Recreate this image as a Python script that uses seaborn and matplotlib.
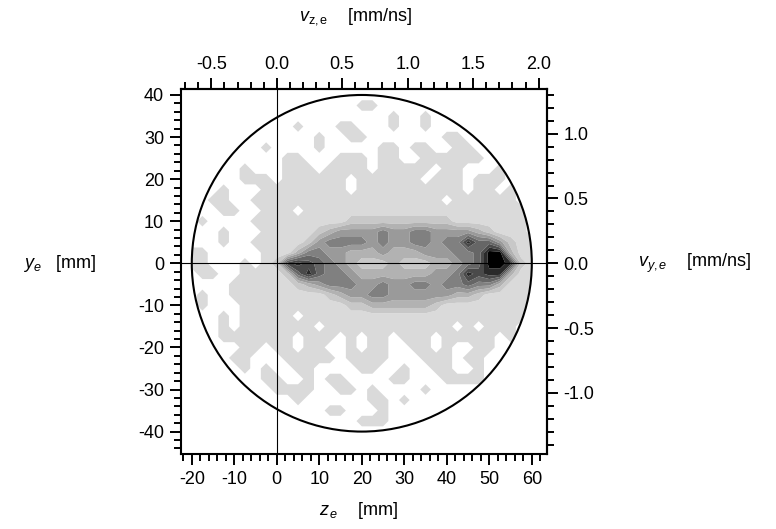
import numpy as np
import matplotlib
matplotlib.use("Agg")
import matplotlib.pyplot as plt
from matplotlib.patches import Circle
from matplotlib.ticker import MultipleLocator, FormatStrFormatter
import seaborn as sns

# grid of the electron hit map, z along the beam, y transverse (mm)
z_nodes = np.linspace(-20, 60, 33)
y_nodes = np.linspace(40, -40, 33)   # first row = top of the picture

# grey level at every node (0 = white ... 9 = black)
density_rows = [
    "00000 00000 00000 00000 00000 00000 000",  # y = 40
    "00000 00000 00000 01100 00000 00000 000",
    "00000 00000 00000 00001 00100 00000 000",
    "00000 00000 10001 10001 00100 00000 000",
    "00000 00000 00100 11000 00001 10000 000",  # y = 30
    "00000 00100 00100 00011 01100 11000 000",
    "00000 00001 10001 11011 00111 11100 000",
    "00000 10001 11011 11011 11101 10001 000",
    "00000 11101 11111 01111 11011 10111 000",  # y = 20
    "00010 00111 11111 01111 11111 10110 100",
    "00110 01111 11111 11111 11110 11111 100",
    "00011 00111 01111 11111 11111 11111 110",
    "01000 01111 11111 22222 22222 11111 110",  # y = 10
    "00010 00111 11234 44454 45544 44321 110",
    "00010 01111 12455 55454 45545 58664 211",
    "11000 00111 35544 33343 33444 55699 311",
    "11000 10127 87654 32223 22233 45699 821",  # y = 0
    "01100 11112 68655 43333 33344 58788 311",
    "00001 11111 23455 54454 45545 56553 111",
    "01001 11111 11123 44554 44444 33211 111",
    "01000 11111 11111 22333 33321 11111 110",  # y = -10
    "00010 11111 01111 11111 11111 11111 110",
    "00010 11111 11011 11111 11111 01011 100",
    "00011 11111 01110 10110 11101 11110 100",
    "00000 11011 01100 10110 01101 00110 000",  # y = -20
    "00001 10001 11110 11110 00111 01100 000",
    "00000 10100 11000 01100 10011 00100 000",
    "00000 00110 01011 00001 10001 11100 000",
    "00000 00011 11001 10100 00100 00000 000",  # y = -30
    "00000 00000 10000 00110 10000 00000 000",
    "00000 00000 00011 00010 00000 00000 000",
    "00000 00000 00000 01110 00000 00000 000",
    "00000 00000 00000 00000 00000 00000 000",  # y = -40
]

grey_colors = ["#ffffff", "#dadada", "#c8c8c8", "#b2b2b2", "#9a9a9a",
               "#808080", "#666666", "#4a4a4a", "#2a2a2a", "#000000"]

tof_ns = 30.8            # mm -> mm/ns conversion of the secondary axes
detector_center = (20, 0)
detector_radius = 40

sns.set_style("ticks")
plt.rcParams['font.family'] = ['Liberation Sans', 'DejaVu Sans']
plt.rcParams['mathtext.fontset'] = 'custom'
plt.rcParams['mathtext.rm'] = 'Liberation Sans'
plt.rcParams['mathtext.it'] = 'Liberation Sans:italic'
plt.rcParams['axes.unicode_minus'] = False
for key in ('text.color', 'axes.labelcolor', 'xtick.color', 'ytick.color'):
    plt.rcParams[key] = 'black'

density = np.array([[int(ch) for ch in row.replace(" ", "")] for row in density_rows])

fig = plt.figure(figsize=(7.76, 5.29), dpi=100)
ax = fig.add_axes([0.2329, 0.1412, 0.4716, 0.6900])

cf = ax.contourf(z_nodes, y_nodes, density, levels=np.arange(-0.5, 10, 1),
                 colors=grey_colors, antialiased=True)
det = Circle(detector_center, detector_radius, facecolor="none",
             edgecolor="black", linewidth=1.5, zorder=4)
ax.add_patch(det)
cf.set_clip_path(det)

ax.axhline(0, color="black", linewidth=0.8, zorder=5)
ax.axvline(0, color="black", linewidth=0.8, zorder=5)

ax.set_xlim(-22.6, 63.5)
ax.set_ylim(-45.4, 41.35)

ax.xaxis.set_major_locator(MultipleLocator(10))
ax.xaxis.set_minor_locator(MultipleLocator(2))
ax.yaxis.set_major_locator(MultipleLocator(10))
ax.yaxis.set_minor_locator(MultipleLocator(2))

secx = ax.secondary_xaxis('top', functions=(lambda z: z / tof_ns, lambda v: v * tof_ns))
secy = ax.secondary_yaxis('right', functions=(lambda y: y / tof_ns, lambda v: v * tof_ns))
for sec_axis in (secx.xaxis, secy.yaxis):
    sec_axis.set_major_locator(MultipleLocator(0.5))
    sec_axis.set_minor_locator(MultipleLocator(0.1))
    sec_axis.set_major_formatter(FormatStrFormatter('%.1f'))

for a in (ax, secx, secy):
    a.tick_params(which='major', direction='out', length=8, width=1.4,
                  labelsize=13, pad=4, color='black')
    a.tick_params(which='minor', direction='out', length=5, width=1.4, color='black')
    for sp in a.spines.values():
        sp.set_linewidth(1.5)
        sp.set_color('black')
ax.tick_params(top=False, right=False, which='both')

# axis titles, placed where the reference has them
lab = dict(transform=ax.transAxes, fontsize=13, ha='center', va='center')
ax.text(0.485, -0.153, r"$z_{\,e}$    [mm]", **lab)
ax.text(-0.330, 0.522, r"$y_e$   [mm]", **lab)
ax.text(0.479, 1.200, r"$v_{\mathrm{z,e}}$    [mm/ns]", **lab)
ax.text(1.405, 0.522, r"$v_{y,e}$    [mm/ns]", **lab)

fig.savefig("out.png", dpi=100)
